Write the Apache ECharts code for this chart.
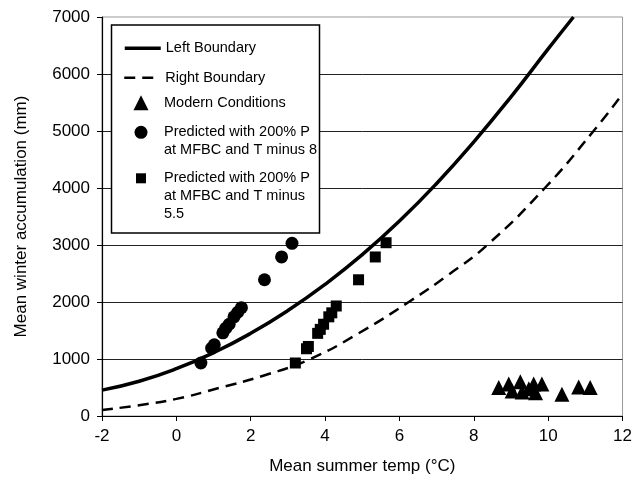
<!DOCTYPE html>
<html>
<head>
<meta charset="utf-8">
<script src="https://cdn.jsdelivr.net/npm/echarts@6/dist/echarts.min.js"></script>
<style>
  html, body { margin: 0; padding: 0; background: #fff; }
  #chart { width: 635px; height: 488px; }
</style>
</head>
<body>
<div id="chart"></div>
<script>
// boundary curves
var leftTemp  = [-2, -1, 0, 1, 2, 3, 4, 5, 6, 7, 8, 9, 10, 10.68];
var leftAcc   = [454, 610, 830, 1110, 1450, 1850, 2310, 2830, 3420, 4080, 4810, 5600, 6440, 7000];
var rightTemp = [-2, -1, 0, 1.14, 2.4, 3.6, 4.9, 6.25, 7.3, 8.36, 9.91, 11.22, 12];
var rightAcc  = [105, 190, 300, 490, 720, 1000, 1450, 2000, 2470, 3000, 4000, 5000, 5650];

// modern conditions (triangles)
var modernTemp = [8.67, 8.94, 9.03, 9.25, 9.3, 9.48, 9.61, 9.66, 9.83, 10.37, 10.82, 11.13];
var modernAcc  = [500, 560, 440, 600, 420, 480, 560, 410, 560, 380, 510, 500];

// T minus 8 (circles)
var minus8Temp = [0.66, 0.95, 1.02, 1.25, 1.33, 1.42, 1.55, 1.65, 1.75, 2.37, 2.83, 3.11];
var minus8Acc  = [930, 1190, 1250, 1460, 1540, 1610, 1740, 1820, 1900, 2390, 2790, 3030];

// T minus 5.5 (squares)
var minus55Temp = [3.2, 3.5, 3.55, 3.8, 3.87, 3.96, 4.1, 4.18, 4.3, 4.9, 5.35, 5.64];
var minus55Acc  = [930, 1180, 1220, 1450, 1520, 1610, 1740, 1810, 1930, 2390, 2790, 3040];

var seriesNames = ['Left Boundary', 'Right Boundary', 'Modern Conditions',
  'Predicted with 200% P\nat MFBC and T minus 8',
  'Predicted with 200% P\nat MFBC and T minus\n5.5'];

function pairs(xs, ys) {
  var out = [];
  for (var i = 0; i < xs.length; i++) out.push([xs[i], ys[i]]);
  return out;
}

var font = 'Liberation Sans, Arial, Helvetica, sans-serif';
var solidLine = { color: '#000', width: 3.5 };
var dashLine = { color: '#000', width: 2.5, type: [11, 7] };

var icons = {
  triangle: 'path://M5,0L10,10L0,10Z',
  circle: 'path://M0,5A5,5,0,1,1,10,5A5,5,0,1,1,0,5Z',
  square: 'path://M0,0L10,0L10,10L0,10Z'
};

// one legend per entry so each can sit where it does in the figure;
// blank lines above keep the icon level with the first text line.
// layout aligns the drawn content, so a narrow icon needs its left nudged
function legendFor(item, top, itemHeight, blankLines, iconSize) {
  var nudge = iconSize ? (36 - iconSize) / 2 : 0;
  return {
    data: [item],
    orient: 'vertical',
    left: 123 + nudge,
    top: top,
    padding: 0,
    itemWidth: 36,
    itemHeight: itemHeight,
    symbolKeepAspect: true,
    selectedMode: false,
    z: 5,
    formatter: function (n) { return new Array(blankLines + 1).join('\n') + n; },
    textStyle: { fontFamily: font, fontSize: 14.5, color: '#000', lineHeight: 18 }
  };
}

var myChart = echarts.init(document.getElementById('chart'));
var option = {
  animation: false,
  backgroundColor: '#fff',
  grid: {
    left: 102, right: 11, top: 17, bottom: 72,
    show: true, borderColor: '#999', borderWidth: 1
  },
  graphic: [{
    type: 'rect',
    z: 3,
    shape: { x: 111.5, y: 25, width: 208, height: 208 },
    style: { fill: '#fff', stroke: '#000', lineWidth: 1.5 }
  }],
  legend: [
    legendFor({ name: seriesNames[0], itemStyle: { opacity: 0 }, lineStyle: solidLine }, 39.3, 14, 0, 0),
    legendFor({ name: seriesNames[1], itemStyle: { opacity: 0 }, lineStyle: dashLine }, 68.7, 14, 0, 0),
    legendFor({ name: seriesNames[2], icon: icons.triangle }, 93.7, 15, 0, 15),
    legendFor({ name: seriesNames[3], icon: icons.circle }, 105.3, 13, 1, 13),
    legendFor({ name: seriesNames[4], icon: icons.square }, 133.3, 10, 2, 10)
  ],
  xAxis: {
    type: 'value',
    min: -2, max: 12, interval: 2,
    name: 'Mean summer temp (°C)',
    nameLocation: 'middle',
    nameGap: 42,
    nameTextStyle: { fontFamily: font, fontSize: 17, color: '#000' },
    axisLine: { show: true, onZero: false, lineStyle: { color: '#000', width: 1.2 } },
    axisTick: { show: true, length: 5, lineStyle: { color: '#000' } },
    axisLabel: { fontFamily: font, fontSize: 17, color: '#000', margin: 12 },
    splitLine: { show: false }
  },
  yAxis: {
    type: 'value',
    min: 0, max: 7000, interval: 1000,
    name: 'Mean winter accumulation (mm)',
    nameLocation: 'middle',
    nameGap: 72,
    nameTextStyle: { fontFamily: font, fontSize: 17, color: '#000' },
    axisLine: { show: true, onZero: false, lineStyle: { color: '#000', width: 1.2 } },
    axisTick: { show: true, length: 5, lineStyle: { color: '#000' } },
    axisLabel: {
      fontFamily: font, fontSize: 17, color: '#000', margin: 12,
      formatter: function (v) { return String(v); }
    },
    splitLine: { show: true, showMinLine: false, showMaxLine: false, lineStyle: { color: '#222', width: 1 } }
  },
  series: [
    {
      name: seriesNames[0],
      type: 'line',
      smooth: true,
      symbol: 'none',
      showSymbol: false,
      data: pairs(leftTemp, leftAcc),
      lineStyle: solidLine,
      itemStyle: { color: '#000' }
    },
    {
      name: seriesNames[1],
      type: 'line',
      smooth: true,
      symbol: 'none',
      showSymbol: false,
      data: pairs(rightTemp, rightAcc),
      lineStyle: dashLine,
      itemStyle: { color: '#000' }
    },
    {
      name: seriesNames[2],
      type: 'scatter',
      symbol: 'triangle',
      symbolSize: 15,
      data: pairs(modernTemp, modernAcc),
      itemStyle: { color: '#000', opacity: 1 }
    },
    {
      name: seriesNames[3],
      type: 'scatter',
      symbol: 'circle',
      symbolSize: 13,
      data: pairs(minus8Temp, minus8Acc),
      itemStyle: { color: '#000', opacity: 1 }
    },
    {
      name: seriesNames[4],
      type: 'scatter',
      symbol: 'rect',
      symbolSize: 11,
      data: pairs(minus55Temp, minus55Acc),
      itemStyle: { color: '#000', opacity: 1 }
    }
  ]
};
myChart.setOption(option);
</script>
</body>
</html>
